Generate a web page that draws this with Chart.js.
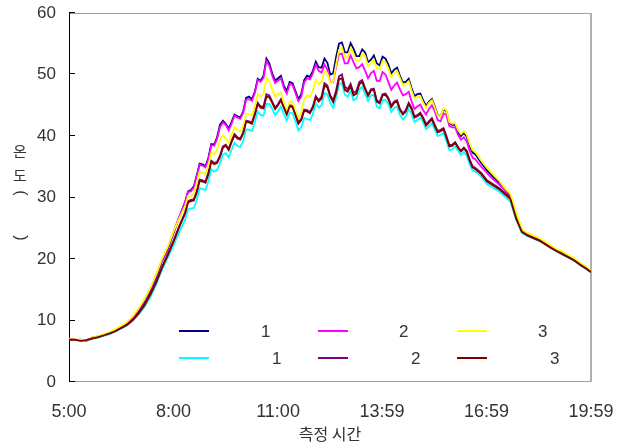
<!DOCTYPE html>
<html>
<head>
<meta charset="utf-8">
<script src="https://cdn.jsdelivr.net/npm/chart.js@4.4.1/dist/chart.umd.min.js"></script>
<style>
  body { margin: 0; background: #fff; }
</style>
</head>
<body>
<canvas id="chart" width="625" height="444"></canvas>
<script>
"use strict";

// minutes after 5:00 (10 min steps, 5 min steps between 8:20 and 16:40)
const minutes = [0,10,20,30,40,50,60,70,80,90,
  100,110,120,130,140,150,160,170,180,190,
  200,205,210,215,220,225,230,235,240,245,250,255,260,265,270,275,280,285,290,295,
  300,305,310,315,320,325,330,335,340,345,350,355,360,365,370,375,380,385,390,395,
  400,405,410,415,420,425,430,435,440,445,450,455,460,465,470,475,480,485,490,495,
  500,505,510,515,520,525,530,535,540,545,550,555,560,565,570,575,580,585,590,595,
  600,605,610,615,620,625,630,635,640,645,650,655,660,665,670,675,680,685,690,695,
  700,
  710,720,730,740,750,760,770,780,790,800,810,820,830,840,850,860,870,880,890,899];

const tickMinutes = [0, 180, 360, 539, 719, 899];
const tickLabels = ["5:00", "8:00", "11:00", "13:59", "16:59", "19:59"];
const yTicks = [0, 10, 20, 30, 40, 50, 60];

const navy = [7.0,6.8,6.9,6.7,7.2,7.4,7.6,8.0,8.4,8.9,9.5,10.4,11.6,13.0,14.8,17.0,19.6,21.6,24.2,26.8,
  29.3,31.0,31.2,31.8,33.6,35.5,35.4,35.1,36.4,38.7,38.6,39.8,41.8,42.5,42.0,41.2,42.3,43.5,43.2,43.0,
  44.0,46.2,46.4,46.0,47.2,49.3,49.0,49.8,52.6,51.8,50.2,49.0,49.4,49.8,48.2,47.3,48.8,48.6,47.3,46.0,
  46.8,49.1,49.8,49.6,50.6,52.1,51.2,51.1,52.6,51.9,50.0,50.2,52.8,55.0,55.2,53.6,53.6,55.1,54.2,53.0,
  53.0,54.1,53.6,52.0,52.4,53.1,51.8,51.5,52.9,52.6,51.6,50.2,50.8,51.1,49.8,48.7,48.8,49.3,47.8,46.5,
  46.8,46.9,45.8,44.9,45.6,46.0,44.8,43.4,43.2,44.4,44.0,42.1,41.8,41.8,40.6,40.0,40.5,39.9,38.4,37.3,
  37.0,
  35.6,34.4,33.4,32.5,31.4,30.2,27.2,24.6,24.0,23.6,23.2,22.6,22.0,21.4,21.0,20.5,20.0,19.3,18.7,18.0];

const magenta = [7.0,6.9,6.8,6.8,7.1,7.4,7.6,8.0,8.5,9.0,9.6,10.5,11.8,13.3,15.1,17.3,19.8,21.8,24.4,26.9,
  29.2,30.9,31.0,31.6,33.4,35.3,35.2,34.9,36.2,38.5,38.4,39.5,41.4,42.2,41.8,40.9,42.0,43.3,43.0,42.8,
  43.8,45.9,46.0,45.7,47.0,49.1,48.8,49.5,52.2,51.4,49.8,48.6,49.0,49.4,47.8,46.9,48.4,48.3,47.0,45.7,
  46.4,48.7,49.4,49.2,50.2,51.6,50.6,50.3,51.6,50.8,48.8,48.8,51.2,53.3,53.4,51.8,51.8,53.1,52.0,51.0,
  51.2,51.7,50.6,49.4,50.2,50.6,49.0,48.9,50.4,50.0,48.8,47.5,48.2,48.7,47.6,46.6,46.8,47.2,45.6,44.4,
  44.8,45.1,44.2,43.5,44.4,45.0,44.0,42.6,42.4,43.7,43.4,41.6,41.4,41.4,40.2,39.4,39.8,39.1,37.6,36.5,
  36.2,
  35.0,34.0,33.0,32.2,31.2,30.0,27.0,24.5,23.9,23.5,23.1,22.5,21.9,21.4,20.9,20.4,19.9,19.2,18.6,17.9];

const yellow = [7.0,6.9,6.9,6.8,7.2,7.5,7.7,8.1,8.6,9.1,9.8,10.7,12.0,13.5,15.3,17.5,20.0,22.0,24.5,26.6,
  28.6,30.2,30.2,30.7,32.4,34.2,34.0,33.8,35.2,37.3,37.0,37.8,39.4,40.1,39.6,38.9,40.2,41.4,41.0,40.7,
  41.6,43.6,43.6,43.4,44.8,46.8,46.4,46.9,49.4,48.9,47.6,46.4,46.8,47.1,45.4,44.3,45.6,45.5,44.2,43.0,
  43.8,46.0,46.6,46.4,47.4,49.1,48.4,48.7,50.6,50.2,48.6,48.9,51.6,54.0,54.4,52.8,52.8,54.3,53.4,52.2,
  52.2,53.4,53.0,51.4,51.8,52.4,51.0,50.8,52.2,52.0,51.0,49.6,50.2,50.6,49.4,48.3,48.4,48.9,47.4,46.1,
  46.4,46.5,45.4,44.6,45.4,45.8,44.6,43.3,43.2,44.5,44.2,42.3,42.0,42.1,41.0,40.3,40.8,40.2,38.8,37.7,
  37.4,
  36.0,34.8,33.8,32.8,31.6,30.6,27.6,24.8,24.2,23.8,23.4,22.8,22.2,21.6,21.2,20.6,20.1,19.4,18.8,18.1];

const cyan = [6.9,6.8,6.7,6.7,7.0,7.2,7.5,7.8,8.2,8.7,9.2,10.0,11.0,12.2,13.8,15.8,18.2,20.2,22.2,24.4,
  26.4,28.1,28.2,28.3,29.6,31.5,31.4,31.2,32.6,34.6,34.2,34.5,35.6,37.0,37.2,36.5,37.8,38.9,38.4,38.2,
  39.2,41.1,41.0,40.8,42.2,44.0,43.4,43.3,45.2,45.2,44.4,43.4,44.0,44.8,43.6,42.5,43.8,43.7,42.4,40.9,
  41.4,42.9,42.8,42.6,43.6,45.3,44.6,45.0,47.0,46.8,45.4,44.6,46.2,48.4,48.6,46.7,46.4,47.3,45.8,46.1,
  47.6,48.0,46.8,45.7,46.6,46.7,44.8,44.5,45.8,45.9,45.2,43.9,44.6,44.8,43.4,42.7,43.2,44.4,43.6,42.3,
  42.6,43.0,42.2,41.1,41.6,42.1,41.0,40.0,40.2,40.5,39.2,37.7,37.8,38.3,37.6,36.9,37.4,36.8,35.4,34.4,
  34.2,
  33.4,32.2,31.6,31.0,30.2,29.4,26.4,24.2,23.7,23.3,22.9,22.4,21.8,21.2,20.7,20.2,19.7,19.0,18.4,17.8];

const purple = [6.9,6.8,6.8,6.8,7.1,7.3,7.6,7.9,8.3,8.8,9.3,10.1,11.2,12.5,14.2,16.2,18.6,20.8,23.0,25.4,
  27.6,29.4,29.6,29.7,31.0,32.9,32.8,32.6,34.0,36.0,35.6,35.8,36.8,38.3,38.6,37.9,39.2,40.3,39.8,39.6,
  40.6,42.5,42.4,42.2,43.6,45.4,44.8,44.8,46.8,46.6,45.6,44.6,45.2,46.0,44.8,43.7,45.0,44.9,43.6,42.2,
  42.8,44.3,44.2,43.9,44.8,46.5,45.8,46.4,48.6,48.2,46.6,45.8,47.4,49.7,50.0,48.0,47.6,48.5,47.0,47.3,
  48.8,49.1,47.8,46.7,47.6,47.7,45.8,45.5,46.8,46.9,46.2,44.9,45.6,45.8,44.4,43.7,44.2,45.4,44.6,43.2,
  43.4,43.8,43.0,41.9,42.4,42.9,41.8,40.8,41.0,41.3,40.0,38.5,38.6,39.0,38.2,37.6,38.1,37.6,36.2,35.1,
  34.8,
  34.0,32.8,32.2,31.6,30.8,30.0,26.8,24.5,23.9,23.5,23.1,22.5,21.9,21.3,20.8,20.3,19.8,19.1,18.5,17.9];

const maroon = [6.9,6.9,6.7,6.8,7.1,7.3,7.6,7.9,8.3,8.8,9.3,10.1,11.2,12.5,14.2,16.2,18.6,20.6,22.8,25.2,
  27.4,29.2,29.4,29.5,30.8,32.7,32.6,32.4,33.8,35.8,35.4,35.6,36.6,38.1,38.4,37.7,39.0,40.1,39.6,39.4,
  40.4,42.3,42.2,42.0,43.4,45.2,44.6,44.5,46.4,46.3,45.4,44.4,45.0,45.8,44.6,43.5,44.8,44.7,43.4,42.0,
  42.6,44.1,44.0,43.7,44.6,46.3,45.6,46.1,48.2,47.9,46.4,45.5,47.0,49.2,49.4,47.5,47.2,48.1,46.6,46.9,
  48.4,48.8,47.6,46.5,47.4,47.5,45.6,45.3,46.6,46.7,46.0,44.7,45.4,45.6,44.2,43.5,44.0,45.2,44.4,43.0,
  43.2,43.6,42.8,41.7,42.2,42.7,41.6,40.6,40.8,41.1,39.8,38.3,38.4,38.9,38.1,37.5,38.0,37.4,36.0,34.9,
  34.6,
  33.8,32.6,32.0,31.4,30.6,29.8,26.6,24.4,23.8,23.4,23.0,22.4,21.8,21.3,20.8,20.3,19.8,19.1,18.5,17.9];

const legendLabels = ["1", "1", "2", "2", "3", "3"];

let toPoints = vals => vals.map((v, i) => ({ x: minutes[i], y: v }));

// dataset list: [label, values, colour, draw order]
let series = [
  [legendLabels[0], navy, "#000080", 6],
  [legendLabels[1], cyan, "#00ffff", 5],
  [legendLabels[2], magenta, "#ff00ff", 4],
  [legendLabels[3], purple, "#800080", 3],
  [legendLabels[4], yellow, "#ffff00", 2],
  [legendLabels[5], maroon, "#800000", 1]
];

// legend slots in the picture (column / row)
const legendSlots = [
  { line: 179, text: 261, y: 331 },
  { line: 179, text: 272, y: 358 },
  { line: 318, text: 399, y: 331 },
  { line: 318, text: 411, y: 358 },
  { line: 457, text: 538, y: 331 },
  { line: 457, text: 550, y: 358 }
];

const textColor = "#333";
const latin = "'Liberation Sans', Arial, sans-serif";
const korean = "'Noto Sans CJK KR', 'Liberation Sans', sans-serif";

let framePlugin = {
  id: "frame",
  beforeDatasetsDraw(chart) {
    let { ctx, chartArea: a, scales } = chart;
    ctx.save();
    ctx.lineWidth = 1;
    ctx.strokeStyle = "#a0a0a0";
    ctx.beginPath();
    ctx.moveTo(a.left, a.top + 0.5);
    ctx.lineTo(a.right, a.top + 0.5);
    ctx.moveTo(a.left, a.bottom - 0.5);
    ctx.lineTo(a.right, a.bottom - 0.5);
    ctx.stroke();
    ctx.lineWidth = 2;
    ctx.strokeStyle = "#b0b0b0";
    ctx.beginPath();
    ctx.moveTo(a.right, a.top);
    ctx.lineTo(a.right, a.bottom);
    ctx.stroke();
    // left axis with inward ticks
    ctx.lineWidth = 1;
    ctx.strokeStyle = "#000";
    ctx.beginPath();
    ctx.moveTo(a.left + 0.5, a.top);
    ctx.lineTo(a.left + 0.5, a.bottom);
    for (let v of yTicks) {
      let py = Math.round(scales.y.getPixelForValue(v)) - 0.5;
      ctx.moveTo(a.left, py);
      ctx.lineTo(a.left + 6, py);
    }
    ctx.stroke();
    ctx.restore();
  },
  afterDraw(chart) {
    let ctx = chart.ctx;
    ctx.save();
    // legend
    chart.data.datasets.forEach((ds, i) => {
      let s = legendSlots[i];
      ctx.strokeStyle = ds.borderColor;
      ctx.lineWidth = 2;
      ctx.beginPath();
      ctx.moveTo(s.line, s.y);
      ctx.lineTo(s.line + 30, s.y);
      ctx.stroke();
      ctx.fillStyle = textColor;
      ctx.font = "17px " + latin;
      ctx.textAlign = "left";
      ctx.textBaseline = "middle";
      ctx.fillText(ds.label, s.text, s.y + 1);
    });
    // vertical y title: 온도 (  )
    ctx.fillStyle = textColor;
    ctx.font = "15px " + korean;
    ctx.textAlign = "center";
    ctx.textBaseline = "middle";
    ctx.fillText("온", 20, 151);
    ctx.fillText("도", 20, 175);
    ctx.font = "16px " + latin;
    for (let [ch, py] of [["(", 193], [")", 238]]) {
      ctx.save();
      ctx.translate(20, py);
      ctx.rotate(Math.PI / 2);
      ctx.fillText(ch, 0, 0);
      ctx.restore();
    }
    ctx.restore();
  }
};

let ctx = document.querySelector("#chart");
let chart = new Chart(ctx, {
  type: "line",
  data: {
    datasets: series.map(s => ({
      label: s[0],
      data: toPoints(s[1]),
      borderColor: s[2],
      backgroundColor: s[2],
      order: s[3],
      fill: false
    }))
  },
  options: {
    responsive: false,
    animation: false,
    layout: { padding: { top: 13, right: 34, left: 0, bottom: 0 } },
    elements: {
      point: { radius: 0 },
      line: { borderWidth: 1.8, tension: 0 }
    },
    plugins: {
      legend: { display: false },
      tooltip: { enabled: false }
    },
    scales: {
      x: {
        type: "linear",
        min: 0,
        max: 899,
        grid: { display: false, drawTicks: false },
        border: { display: false },
        afterBuildTicks: s => { s.ticks = tickMinutes.map(v => ({ value: v })); },
        afterFit: s => {
          s.height = 62;
          s.paddingLeft = 0;
          s.paddingRight = 0;
        },
        ticks: {
          autoSkip: false,
          maxRotation: 0,
          padding: 19,
          color: textColor,
          font: { size: 18, family: latin },
          callback: (v, i) => tickLabels[i]
        },
        title: {
          display: true,
          text: "측정 시간",
          color: textColor,
          font: { size: 16, family: korean },
          padding: { top: 0, bottom: 0 }
        }
      },
      y: {
        min: 0,
        max: 60,
        grid: { display: false, drawTicks: false },
        border: { display: false },
        afterBuildTicks: s => { s.ticks = yTicks.map(v => ({ value: v })); },
        afterFit: s => {
          s.width = 69;
          s.paddingTop = 0;
          s.paddingBottom = 0;
        },
        ticks: {
          padding: 13,
          color: textColor,
          font: { size: 17, family: latin }
        }
      }
    }
  },
  plugins: [framePlugin]
});
</script>
</body>
</html>
